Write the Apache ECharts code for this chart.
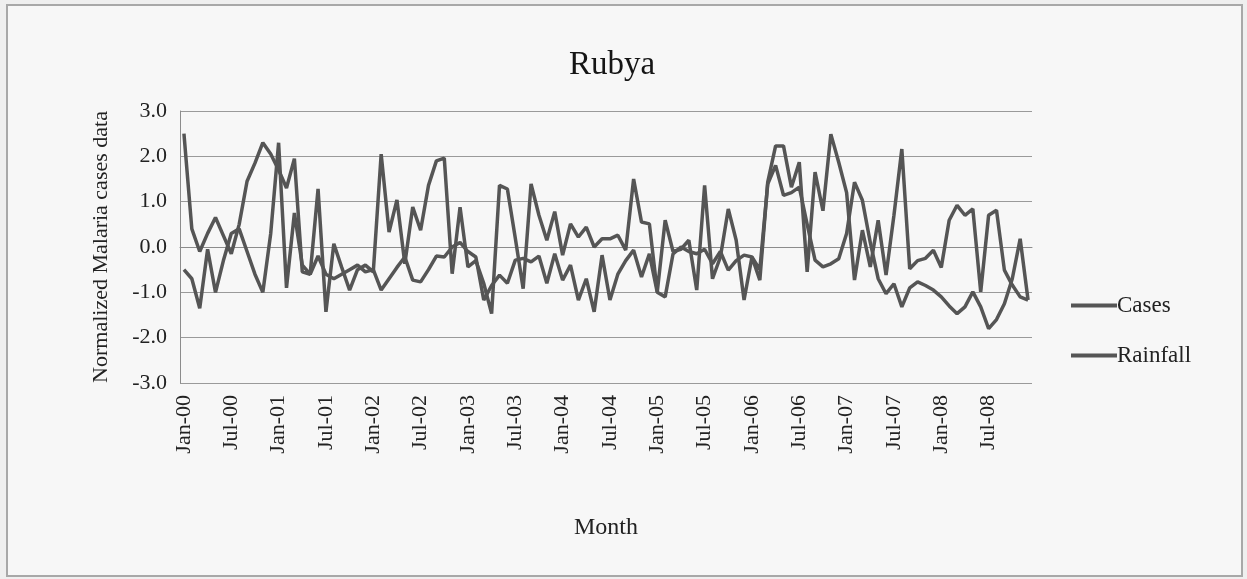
<!DOCTYPE html>
<html>
<head>
<meta charset="utf-8">
<script src="https://cdn.jsdelivr.net/npm/echarts@6/dist/echarts.min.js"></script>
<style>
  html, body { margin: 0; padding: 0; background: #efefef; }
  #chart {
    position: absolute; left: 6px; top: 4px; width: 1233px; height: 569px;
    background: #f7f7f7; border: 2px solid #a8a8a8;
  }
</style>
</head>
<body>
<div id="chart"></div>
<script>
// tick labels
const monthNames = ['Jan', 'Feb', 'Mar', 'Apr', 'May', 'Jun', 'Jul', 'Aug', 'Sep', 'Oct', 'Nov', 'Dec']
const yearNames = ['00', '01', '02', '03', '04', '05', '06', '07', '08']

// normalized values, Jan-00 .. Dec-08
const cases = [
  2.5, 0.4, -0.1, 0.3, 0.65, 0.25, -0.15, 0.5, 1.45, 1.85, 2.3, 2.05,
  1.7, 1.3, 1.95, -0.55, -0.6, 1.28, -1.43, 0.07, -0.45, -0.95, -0.5, -0.4,
  -0.55, 2.05, 0.33, 1.04, -0.37, 0.88, 0.37, 1.36, 1.9, 1.96, -0.59, 0.88,
  -0.44, -0.3, -0.8, -1.47, 1.36, 1.28, 0.2, -0.92, 1.39, 0.7, 0.15, 0.78,
  -0.18, 0.51, 0.22, 0.44, 0.0, 0.18, 0.18, 0.26, -0.07, 1.5, 0.55, 0.51,
  -0.99, 0.59, -0.1, -0.05, 0.15, -0.95, 1.36, -0.7, -0.22, 0.84, 0.15, -1.17,
  -0.22, -0.73, 1.43, 2.23, 2.23, 1.32, 1.87, -0.55, 1.65, 0.8, 2.49, 1.87,
  1.2, -0.73, 0.37, -0.44, 0.59, -0.62, 0.7, 2.16, -0.48, -0.3, -0.25, -0.07,
  -0.45, 0.59, 0.92, 0.7, 0.84, -0.99, 0.7, 0.81, -0.51, -0.84, -1.1, -1.17
]
const rainfall = [
  -0.5, -0.7, -1.35, -0.05, -1.0, -0.3, 0.3, 0.4, -0.1, -0.6, -1.0, 0.3,
  2.3, -0.9, 0.75, -0.4, -0.6, -0.2, -0.6, -0.7, -0.6, -0.5, -0.4, -0.55,
  -0.5, -0.95, -0.7, -0.45, -0.22, -0.73, -0.77, -0.5, -0.2, -0.22, 0.0, 0.1,
  -0.1, -0.22, -1.17, -0.85, -0.62, -0.8, -0.29, -0.25, -0.33, -0.2, -0.8, -0.15,
  -0.73, -0.4, -1.17, -0.7, -1.43, -0.18, -1.17, -0.6, -0.3, -0.07, -0.66, -0.15,
  -1.0, -1.1, -0.15, 0.0, -0.1, -0.15, -0.05, -0.37, -0.1, -0.51, -0.3, -0.18,
  -0.22, -0.5, 1.39, 1.8, 1.14, 1.2, 1.32, 0.5, -0.29, -0.44, -0.37, -0.26,
  0.3, 1.43, 1.03, 0.1, -0.7, -1.03, -0.81, -1.32, -0.9, -0.77, -0.85, -0.95,
  -1.1, -1.3, -1.47, -1.32, -0.99, -1.32, -1.8, -1.6, -1.25, -0.7, 0.18, -1.17
]

const months = []
yearNames.forEach(function (y) {
  monthNames.forEach(function (m) { months.push(m + '-' + y) })
})

const serif = '"Liberation Serif", "DejaVu Serif", serif'
const ink = '#222222'
const lineGrey = '#555555'

let chart = echarts.init(document.getElementById('chart'))
let option = {
  backgroundColor: 'transparent',
  animation: false,
  title: {
    text: 'Rubya',
    left: 599,
    textAlign: 'center',
    top: 38,
    textStyle: { fontFamily: serif, fontSize: 33, fontWeight: 'normal', color: '#151515' },
  },
  legend: {
    orient: 'vertical',
    left: 1058,
    top: 283,
    itemGap: 27,
    itemWidth: 46,
    itemHeight: 4,
    icon: 'rect',
    textStyle: { fontFamily: serif, fontSize: 23, color: ink, padding: [0, 0, 0, -5] },
    data: ['Cases', 'Rainfall'],
  },
  grid: {
    left: 172,
    right: 209,
    top: 105,
    bottom: 192,
  },
  xAxis: {
    type: 'category',
    data: months,
    boundaryGap: true,
    name: 'Month',
    nameLocation: 'middle',
    nameGap: 133,
    nameTextStyle: { fontFamily: serif, fontSize: 24, color: ink },
    axisLine: { show: true, lineStyle: { color: '#8c8c8c', width: 1 } },
    axisTick: { show: false },
    axisLabel: {
      interval: 5,
      rotate: 90,
      margin: 12,
      fontFamily: serif,
      fontSize: 22,
      color: ink,
    },
    splitLine: { show: false },
  },
  yAxis: {
    type: 'value',
    min: -3,
    max: 3,
    interval: 1,
    name: 'Normalized Malaria cases data',
    nameLocation: 'middle',
    nameGap: 68,
    nameTextStyle: { fontFamily: serif, fontSize: 22, color: ink },
    axisLine: { show: true, lineStyle: { color: '#8c8c8c', width: 1 } },
    axisTick: { show: false },
    axisLabel: {
      margin: 13,
      fontFamily: serif,
      fontSize: 22,
      color: ink,
      formatter: function (v) { return v.toFixed(1) },
    },
    splitLine: { show: true, lineStyle: { color: '#9a9a9a', width: 1 } },
  },
  series: [
    {
      name: 'Cases',
      type: 'line',
      data: cases,
      showSymbol: false,
      color: lineGrey,
      lineStyle: { width: 3.5, color: lineGrey },
    },
    {
      name: 'Rainfall',
      type: 'line',
      data: rainfall,
      showSymbol: false,
      color: lineGrey,
      lineStyle: { width: 3.5, color: lineGrey },
    },
  ],
}
chart.setOption(option)
</script>
</body>
</html>
